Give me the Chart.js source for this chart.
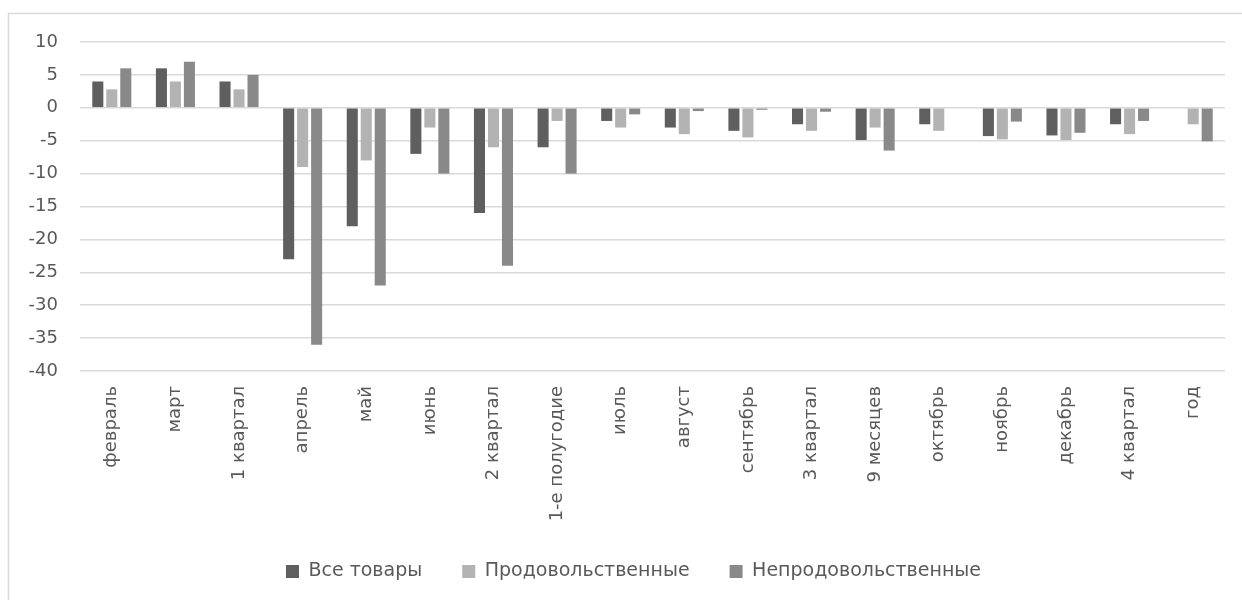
<!doctype html>
<html lang="ru">
<head>
    <meta charset="utf-8">
    <script src="https://cdn.jsdelivr.net/npm/chart.js@4"></script>
    <title>Товарооборот</title>
</head>
<body>
<div id="content">
    <canvas id="chart" width="1242" height="600"></canvas>
</div>

<script>
    // categories and values
    const months = ['февраль', 'март', '1 квартал', 'апрель', 'май', 'июнь', '2 квартал', '1-е полугодие',
        'июль', 'август', 'сентябрь', '3 квартал', '9 месяцев', 'октябрь', 'ноябрь', 'декабрь', '4 квартал', 'год'];
    const allGoods = [4, 6, 4, -23, -18, -7, -16, -6, -2, -3, -3.5, -2.5, -4.9, -2.5, -4.3, -4.2, -2.5, null];
    const foodGoods = [2.8, 4, 2.8, -9, -8, -3, -6, -2, -3, -4, -4.5, -3.5, -3, -3.5, -4.8, -4.9, -4, -2.5];
    const nonFoodGoods = [6, 7, 5, -36, -27, -10, -24, -10, -1, -0.5, -0.3, -0.6, -6.5, null, -2.1, -3.8, -2, -5.1];

    const textColor = '#595959';
    const font = 'DejaVu Sans';

    // thin frame like the excel chart border, legend nudged a bit right
    const frame = {
        id: 'frame',
        afterLayout(chart) {
            chart.legend.left += 21;
            chart.legend.right += 21;
        },
        beforeDraw(chart) {
            const c = chart.ctx;
            c.save();
            c.fillStyle = '#fff';
            c.fillRect(0, 0, chart.width, chart.height);
            c.strokeStyle = '#d9d9d9';
            c.lineWidth = 1.5;
            c.beginPath();
            c.moveTo(8.5, chart.height);
            c.lineTo(8.5, 13.5);
            c.lineTo(chart.width, 13.5);
            c.stroke();
            c.restore();
        }
    };

    const data = {
        labels: months,
        datasets: [
            {
                label: 'Все товары',
                backgroundColor: '#5f5f5f',
                data: allGoods
            },
            {
                label: 'Продовольственные',
                backgroundColor: '#b3b3b3',
                data: foodGoods
            },
            {
                label: 'Непродовольственные',
                backgroundColor: '#898989',
                data: nonFoodGoods
            }
        ]
    };

    const config = {
        type: 'bar',
        data: data,
        plugins: [frame],
        options: {
            responsive: false,
            animation: false,
            datasets: {
                bar: {
                    categoryPercentage: 0.66,
                    barPercentage: 0.79
                }
            },
            layout: {
                padding: {left: 0, right: 17, top: 42, bottom: 9}
            },
            plugins: {
                tooltip: {enabled: false},
                legend: {
                    position: 'bottom',
                    labels: {
                        color: textColor,
                        font: {family: font, size: 19},
                        boxWidth: 13,
                        boxHeight: 13,
                        padding: 40
                    }
                }
            },
            scales: {
                x: {
                    grid: {display: false, drawTicks: false},
                    border: {display: false},
                    ticks: {
                        color: textColor,
                        font: {family: font, size: 18},
                        minRotation: 90,
                        maxRotation: 90,
                        padding: 15
                    },
                    afterFit(scale) {
                        scale.height = 151;
                    }
                },
                y: {
                    min: -40,
                    max: 10,
                    grid: {color: '#d9d9d9', lineWidth: 1.5, drawTicks: false},
                    border: {display: false},
                    ticks: {
                        stepSize: 5,
                        color: textColor,
                        font: {family: font, size: 18},
                        padding: 22
                    },
                    afterFit(scale) {
                        scale.width = 80;
                    }
                }
            }
        }
    };

    const chart = new Chart(document.getElementById('chart'), config);
</script>
<style>
    body {
        margin: 0;
        background: #fff;
    }

    #chart {
        display: block;
    }
</style>
</body>
</html>
